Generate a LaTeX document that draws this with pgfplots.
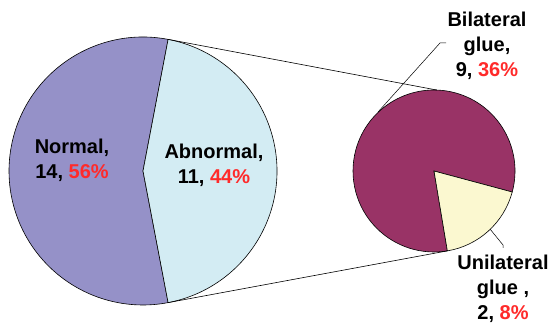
\documentclass[border=0pt]{standalone}
\usepackage{fontspec}
\setmainfont{Liberation Sans}
\usepackage{xcolor}
\usepackage{pgfplots}
\pgfplotsset{compat=1.18}
\usetikzlibrary{calc}
\definecolor{normalc}{HTML}{9591C8}
\definecolor{abnormc}{HTML}{D3ECF3}
\definecolor{bilatc}{HTML}{993366}
\definecolor{unilatc}{HTML}{FBF8D0}
\definecolor{pctred}{HTML}{FF2A2A}

% counts
\def\nNormal{14}
\def\nAbnormal{11}
\def\nBilateral{9}
\def\nUnilateral{2}

\begin{document}
\begin{tikzpicture}
\pgfmathsetmacro{\total}{\nNormal+\nAbnormal}
\pgfmathsetmacro{\halfAb}{180*\nAbnormal/\total}
\pgfmathsetmacro{\uniStart}{-80.5}
\pgfmathsetmacro{\uniEnd}{\uniStart+360*\nUnilateral/\nAbnormal}
\begin{axis}[
  width=552pt, height=323pt, scale only axis,
  xmin=0, xmax=552, ymin=0, ymax=323,
  hide axis, clip=false, anchor=south west, at={(0,0)},
]
% big pie
\filldraw[fill=normalc, draw=black, line width=0.6pt]
  (axis cs:143,152) -- ++(\halfAb:134pt) arc[start angle=\halfAb, end angle={360-\halfAb}, radius=134pt] -- cycle;
\filldraw[fill=abnormc, draw=black, line width=0.6pt]
  (axis cs:143,152) -- ++(-\halfAb:134pt) arc[start angle=-\halfAb, end angle=\halfAb, radius=134pt] -- cycle;
% small pie
\filldraw[fill=bilatc, draw=black, line width=0.6pt]
  (axis cs:434,152) -- ++(\uniEnd:81pt) arc[start angle=\uniEnd, end angle={\uniStart+360}, radius=81pt] -- cycle;
\filldraw[fill=unilatc, draw=black, line width=0.6pt]
  (axis cs:434,152) -- ++(\uniStart:81pt) arc[start angle=\uniStart, end angle=\uniEnd, radius=81pt] -- cycle;
% connectors
\draw[line width=0.6pt] ($(axis cs:143,152)+(\halfAb:134pt)$) -- ($(axis cs:434,152)+(88:81pt)$);
\draw[line width=0.6pt] ($(axis cs:143,152)+(-\halfAb:134pt)$) -- ($(axis cs:434,152)+(\uniStart:81pt)$);
% leaders
\draw[line width=0.5pt] (axis cs:446,280) -- (axis cs:440,280) -- (axis cs:378,211);
\draw[line width=0.5pt] (axis cs:490,94) -- (axis cs:503,78) -- (axis cs:503,75);
% labels
\begin{scope}[every node/.style={font=\fontsize{20}{25}\selectfont\bfseries, align=center, inner sep=0pt}]
\node at (axis cs:72,163) {Normal,\\\nNormal, \textcolor{pctred}{56\%}};
\node at (axis cs:214,158) {Abnormal,\\\nAbnormal, \textcolor{pctred}{44\%}};
\node at (axis cs:487,277) {Bilateral\\glue,\\\nBilateral, \textcolor{pctred}{36\%}};
\node at (axis cs:503,34) {Unilateral\\glue ,\\\nUnilateral, \textcolor{pctred}{8\%}};
\end{scope}
\end{axis}
\pgfresetboundingbox
\useasboundingbox (0,0) rectangle (552pt,323pt);
\end{tikzpicture}
\end{document}
